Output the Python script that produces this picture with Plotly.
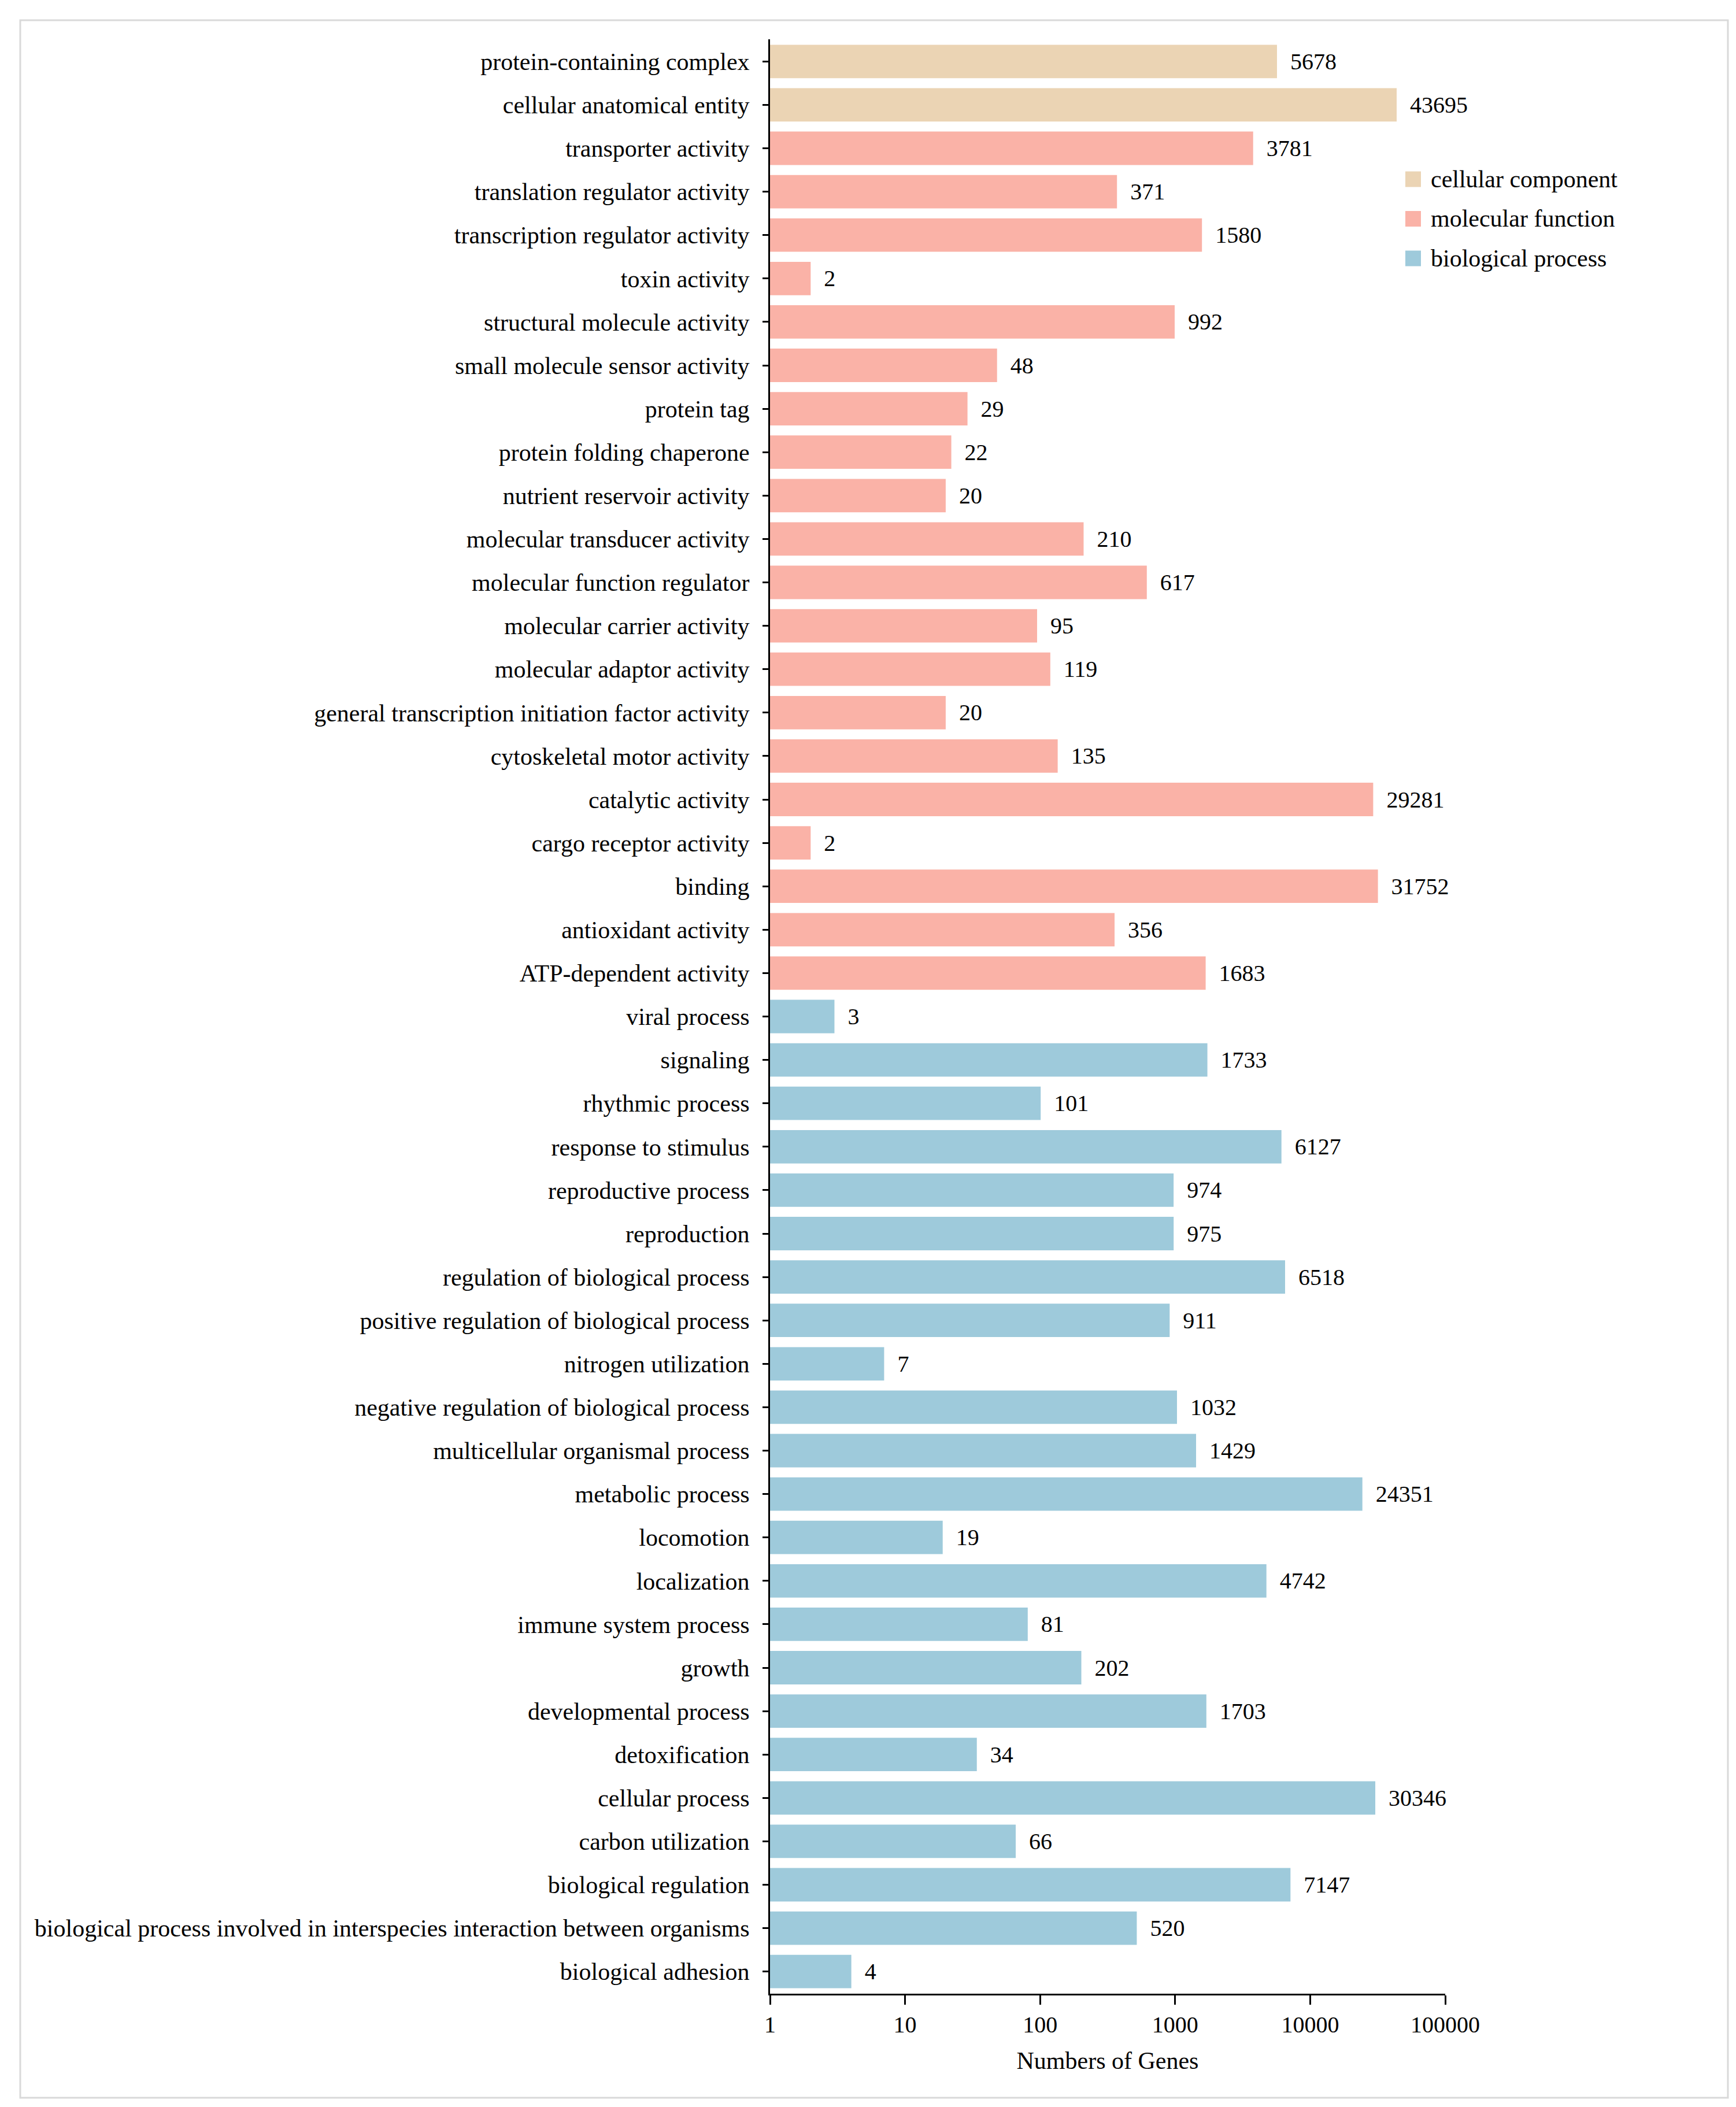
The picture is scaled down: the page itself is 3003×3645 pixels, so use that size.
import plotly.graph_objects as go

# GO categories, top to bottom as drawn
cc_terms = ["protein-containing complex", "cellular anatomical entity"]
cc_counts = [5678, 43695]

mf_terms = [
    "transporter activity", "translation regulator activity", "transcription regulator activity",
    "toxin activity", "structural molecule activity", "small molecule sensor activity",
    "protein tag", "protein folding chaperone", "nutrient reservoir activity",
    "molecular transducer activity", "molecular function regulator", "molecular carrier activity",
    "molecular adaptor activity", "general transcription initiation factor activity",
    "cytoskeletal motor activity", "catalytic activity", "cargo receptor activity", "binding",
    "antioxidant activity", "ATP-dependent activity",
]
mf_counts = [3781, 371, 1580, 2, 992, 48, 29, 22, 20, 210, 617, 95, 119, 20, 135, 29281, 2, 31752, 356, 1683]

bp_terms = [
    "viral process", "signaling", "rhythmic process", "response to stimulus", "reproductive process",
    "reproduction", "regulation of biological process", "positive regulation of biological process",
    "nitrogen utilization", "negative regulation of biological process",
    "multicellular organismal process", "metabolic process", "locomotion", "localization",
    "immune system process", "growth", "developmental process", "detoxification",
    "cellular process", "carbon utilization", "biological regulation",
    "biological process involved in interspecies interaction between organisms", "biological adhesion",
]
bp_counts = [3, 1733, 101, 6127, 974, 975, 6518, 911, 7, 1032, 1429, 24351, 19, 4742, 81, 202, 1703, 34,
             30346, 66, 7147, 520, 4]

group_names = ["cellular component", "molecular function", "biological process"]
group_colors = ["#EBD4B4", "#FAB2A7", "#9ECADB"]

x_tickvals = [1, 10, 100, 1000, 10000, 100000]
x_ticktext = ["1", "10", "100", "1000", "10000", "100000"]

FONT = "Liberation Serif, Times New Roman, serif"
W, H = 3003, 3645
L, R, T, B = 1324, 511, 60, 204


def px_to_paper(px, py):
    # pixel position on the page -> paper coords of the plot area
    pw = W - L - R
    ph = H - T - B
    return (px - L) / pw, (H - B - py) / ph


all_terms = cc_terms + mf_terms + bp_terms

fig = go.Figure()
for name, color, terms, counts in zip(
    group_names, group_colors, [cc_terms, mf_terms, bp_terms], [cc_counts, mf_counts, bp_counts]
):
    fig.add_trace(go.Bar(
        y=terms,
        x=counts,
        orientation="h",
        name=name,
        marker=dict(color=color, line=dict(width=0)),
        text=["\u00a0\u00a0" + str(c) for c in counts],
        textposition="outside",
        constraintext="none",
        cliponaxis=False,
        textfont=dict(family=FONT, size=40, color="black"),
        showlegend=False,
    ))

fig.update_layout(
    width=W, height=H,
    margin=dict(l=L, r=R, t=T, b=B, pad=0),
    paper_bgcolor="white", plot_bgcolor="white",
    barmode="overlay", bargap=0.23,
    font=dict(family=FONT, size=42, color="black"),
)

fig.update_xaxes(
    type="log", range=[0, 5],
    tickvals=x_tickvals, ticktext=x_ticktext,
    showline=True, linecolor="black", linewidth=3,
    ticks="outside", ticklen=16, tickwidth=3, tickcolor="black",
    showgrid=False, zeroline=False,
    tickfont=dict(family=FONT, size=40),
    title=dict(text="Numbers of Genes", font=dict(family=FONT, size=42), standoff=26),
)

fig.update_yaxes(
    type="category", categoryorder="array", categoryarray=all_terms,
    range=[44.51, -0.51],
    showline=True, linecolor="black", linewidth=3,
    ticks="outside", ticklen=10, tickwidth=3, tickcolor="black",
    showgrid=False, zeroline=False,
    tickfont=dict(family=FONT, size=42),
    ticklabelstandoff=14,
)

# light grey frame around the whole figure
x0, y0 = px_to_paper(27, 3621)
x1, y1 = px_to_paper(2981, 27)
fig.add_shape(type="rect", xref="paper", yref="paper", x0=x0, y0=y0, x1=x1, y1=y1,
              line=dict(color="#D9D9D9", width=3), layer="below")

# legend drawn by hand so the swatches can be as big as in the original
for i, (name, color) in enumerate(zip(group_names, group_colors)):
    cy = 302 + i * 68.5
    sx0, sy0 = px_to_paper(2423, cy + 13.5)
    sx1, sy1 = px_to_paper(2450, cy - 13.5)
    fig.add_shape(type="rect", xref="paper", yref="paper", x0=sx0, y0=sy0, x1=sx1, y1=sy1,
                  fillcolor=color, line=dict(width=0))
    tx, ty = px_to_paper(2465, cy)
    fig.add_annotation(xref="paper", yref="paper", x=tx, y=ty, text=name, showarrow=False,
                       xanchor="left", yanchor="middle", font=dict(family=FONT, size=42, color="black"))

fig.write_html("out.html")
